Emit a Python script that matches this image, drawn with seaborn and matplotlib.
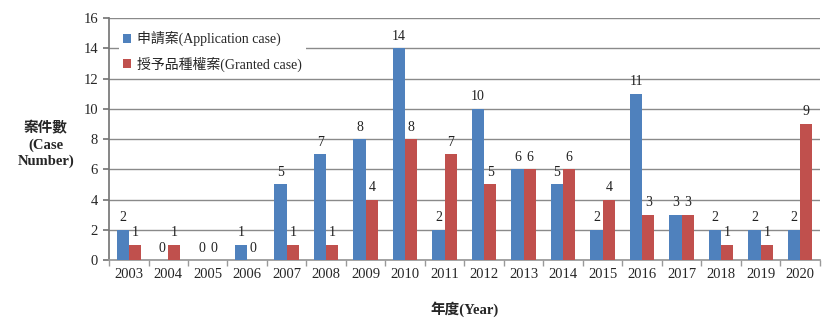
import matplotlib
matplotlib.use("Agg")
import matplotlib.pyplot as plt
import seaborn as sns
import pandas as pd
import numpy as np
from matplotlib.ticker import FixedLocator

years = ["2003", "2004", "2005", "2006", "2007", "2008", "2009", "2010", "2011",
         "2012", "2013", "2014", "2015", "2016", "2017", "2018", "2019", "2020"]
application = [2, 0, 0, 1, 5, 7, 8, 14, 2, 10, 6, 5, 2, 11, 3, 2, 2, 2]
granted = [1, 1, 0, 0, 1, 1, 4, 8, 7, 5, 6, 6, 4, 3, 3, 1, 1, 9]
series_names = ["申請案(Application case)", "授予品種權案(Granted case)"]
colors = ["#4F81BD", "#C0504D"]

sns.set_theme(style="white")
plt.rcParams["font.family"] = ["Liberation Serif", "Noto Sans CJK TC"]

df = pd.DataFrame({
    "year": years * 2,
    "value": application + granted,
    "series": [series_names[0]] * len(years) + [series_names[1]] * len(years),
})

fig = plt.figure(figsize=(8.29, 3.18), dpi=100)
ax = fig.add_axes([0.1315, 0.182, 0.8575, 0.761])

sns.barplot(data=df, x="year", y="value", hue="series", palette=colors,
            width=0.62, ax=ax, saturation=1, errorbar=None, zorder=3,
            linewidth=0)

for c in ax.containers:
    ax.bar_label(c, fmt="%d", padding=4, fontsize=10, color="#222222")

ax.set_ylim(0, 16)
ax.set_yticks(np.arange(0, 17, 2))
ax.set_xlim(-0.5, len(years) - 0.5)
ax.yaxis.grid(True, color="#8a8a8a", linewidth=1.0, zorder=0)
ax.set_axisbelow(True)

for s in ["top", "right"]:
    ax.spines[s].set_visible(False)
ax.spines["left"].set_color("#777777")
ax.spines["bottom"].set_color("#999999")

ax.tick_params(axis="y", direction="out", length=4, color="#777777",
               labelsize=10.5, left=True, pad=4)
ax.tick_params(axis="x", length=0, labelsize=10.5, pad=6)
ax.xaxis.set_minor_locator(FixedLocator(np.arange(-0.5, len(years), 1.0)))
ax.tick_params(axis="x", which="minor", direction="out", length=4,
               color="#999999", bottom=True)

ax.set_xlabel("年度(Year)", fontsize=10.5, fontweight="bold", labelpad=14)
ax.set_ylabel("")
fig.text(0.055, 0.545, "案件數\n(Case\nNumber)", ha="center", va="center",
         fontsize=10.5, fontweight="bold", linespacing=1.3)

leg = ax.legend(loc="upper left", bbox_to_anchor=(0.01, 0.975), frameon=True,
                fontsize=10, handlelength=0.6, handleheight=0.6,
                handletextpad=0.4, labelspacing=0.75, borderaxespad=0.2,
                facecolor="white", edgecolor="none", framealpha=1,
                fancybox=False, borderpad=0.3)
leg.set_zorder(5)

fig.savefig("out.png", dpi=100)
